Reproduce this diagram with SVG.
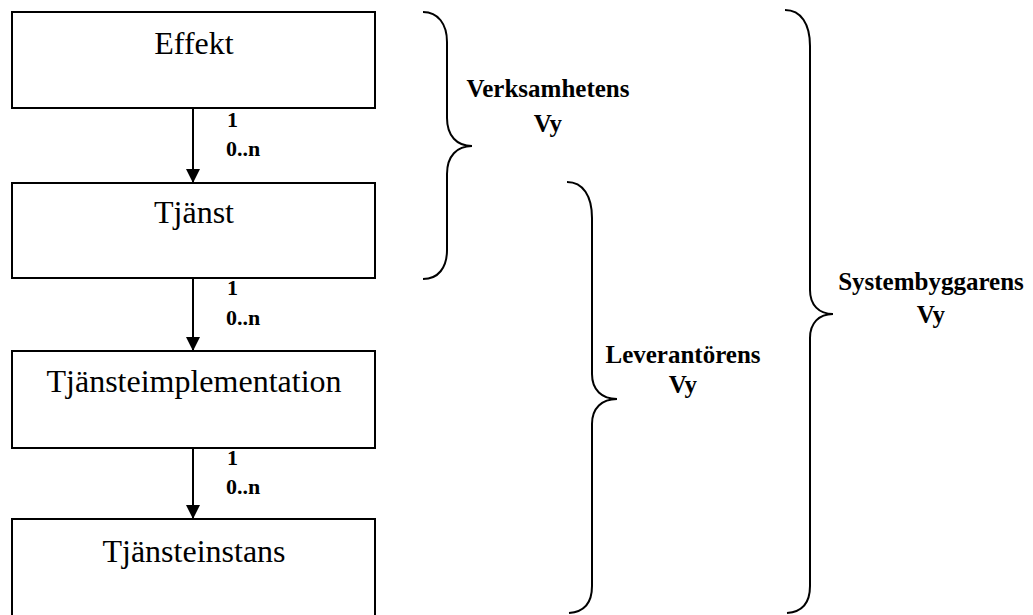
<svg xmlns="http://www.w3.org/2000/svg" width="1033" height="615" viewBox="0 0 1033 615">
  <style>
    .box { fill: #ffffff; stroke: #000000; stroke-width: 2; }
    .label { font-family: "Liberation Serif", "Times New Roman", serif; font-size: 32px; fill: #000000; text-anchor: middle; }
    .mult { font-family: "Liberation Serif", "Times New Roman", serif; font-size: 22px; font-weight: bold; fill: #000000; }
    .edge { stroke: #000000; stroke-width: 2; fill: none; }
    .brace { stroke: #000000; stroke-width: 2; fill: none; }
    .view { font-family: "Liberation Serif", "Times New Roman", serif; font-size: 25px; font-weight: bold; fill: #000000; text-anchor: middle; }
  </style>
  <defs>
    <marker id="arrow" markerWidth="14" markerHeight="16" refX="13" refY="7" orient="auto" markerUnits="userSpaceOnUse">
      <path d="M0,0 L14,7 L0,14 Z" fill="#000000"/>
    </marker>
  </defs>

  <rect width="1033" height="615" fill="#ffffff"/>

  <!-- entity boxes -->
  <g id="node-effekt">
    <rect class="box" x="12" y="12" width="363" height="96"/>
    <text class="label" x="194" y="54">Effekt</text>
  </g>
  <g id="node-tjanst">
    <rect class="box" x="12" y="183" width="363" height="95"/>
    <text class="label" x="194" y="223">Tjänst</text>
  </g>
  <g id="node-tjansteimplementation">
    <rect class="box" x="12" y="351" width="363" height="97"/>
    <text class="label" x="194" y="392">Tjänsteimplementation</text>
  </g>
  <g id="node-tjansteinstans">
    <rect class="box" x="12" y="519" width="363" height="110"/>
    <text class="label" x="194" y="562">Tjänsteinstans</text>
  </g>

  <!-- associations with multiplicities -->
  <g id="connectors">
    <line class="edge" x1="193" y1="108" x2="193" y2="182" marker-end="url(#arrow)"/>
    <text class="mult" x="227" y="127">1</text>
    <text class="mult" x="226" y="156">0..n</text>

    <line class="edge" x1="193" y1="278" x2="193" y2="350" marker-end="url(#arrow)"/>
    <text class="mult" x="227" y="295">1</text>
    <text class="mult" x="226" y="325">0..n</text>

    <line class="edge" x1="193" y1="448" x2="193" y2="518" marker-end="url(#arrow)"/>
    <text class="mult" x="227" y="465">1</text>
    <text class="mult" x="226" y="494">0..n</text>
  </g>

  <!-- view braces -->
  <g id="view-verksamhet">
    <path class="brace" d="M423,12 C438,12 447,24 447,42 L447,118 C447,136 457,146 472,146 C457,146 447,156 447,174 L447,250 C447,268 438,279 423,279"/>
    <text class="view" x="548" y="97">Verksamhetens</text>
    <text class="view" x="548" y="132">Vy</text>
  </g>
  <g id="view-leverantor">
    <path class="brace" d="M567,182 C583,182 592,196 592,218 L592,374 C592,390 602,399 617,399 C602,399 592,408 592,424 L592,586 C592,604 583,612 569,613"/>
    <text class="view" x="683" y="363">Leverantörens</text>
    <text class="view" x="683" y="393">Vy</text>
  </g>
  <g id="view-systembyggare">
    <path class="brace" d="M785,10 C801,10 810,24 810,46 L810,290 C810,305 819,314 833,314 C819,314 810,323 810,338 L810,586 C810,604 801,612 787,613"/>
    <text class="view" x="931" y="290">Systembyggarens</text>
    <text class="view" x="931" y="323">Vy</text>
  </g>
</svg>
